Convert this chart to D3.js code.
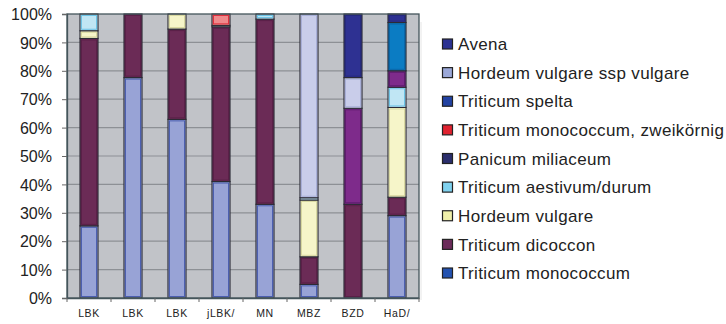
<!DOCTYPE html>
<html>
<head>
<meta charset="utf-8">
<script src="https://cdn.jsdelivr.net/npm/d3@7"></script>
<style>
  html, body { margin: 0; padding: 0; background: #ffffff; }
  svg { display: block; font-family: "Liberation Sans", Arial, sans-serif; }
</style>
</head>
<body>
<svg id="chart" width="726" height="324"></svg>
<script>
// ---- data ----
const categories = ["LBK", "LBK", "LBK", "jLBK/", "MN", "MBZ", "BZD", "HaD/"];
const seriesNames = [
  "Triticum monococcum",
  "Triticum dicoccon",
  "Hordeum vulgare",
  "Triticum aestivum/durum",
  "Panicum miliaceum",
  "Triticum monococcum, zweikörnig",
  "Triticum spelta",
  "Hordeum vulgare ssp vulgare",
  "Avena"
];
const monococcum   = [25.4, 77.6, 62.9, 41.0, 33.0, 4.8, 0, 29.0];
const dicoccon     = [66.0, 22.4, 31.8, 54.5, 65.2, 9.7, 33.0, 6.5];
const hordeum      = [2.7, 0, 5.3, 0, 0, 20.0, 0, 31.6];
const aestivum     = [5.9, 0, 0, 0.5, 1.8, 0.8, 0, 7.1];
const panicum      = [0, 0, 0, 0, 0, 0, 33.8, 5.8];
const zweikoernig  = [0, 0, 0, 4.0, 0, 0, 0, 0];
const spelta       = [0, 0, 0, 0, 0, 0, 0, 17.0];
const sspVulgare   = [0, 0, 0, 0, 0, 64.7, 10.8, 0];
const avena        = [0, 0, 0, 0, 0, 0, 22.4, 3.0];
const seriesValues = [monococcum, dicoccon, hordeum, aestivum, panicum, zweikoernig, spelta, sspVulgare, avena];
const yTicks = [0, 10, 20, 30, 40, 50, 60, 70, 80, 90, 100];

// ---- styles ----
const barFill   = ["#98a3d6", "#6b2b56", "#f6f5c9", "#c0e6f4", "#7e2b8b", "#f08a8c", "#0b7cc3", "#c9cdea", "#2e3192"];
const barEdge   = ["#4c5fb0", "#5a2048", "#d8d8a0", "#6cc3e6", "#5e1d6e", "#e0303e", "#0a66a8", "#a8afd8", "#262a7e"];
const legendFill = ["#2352b0", "#6b2b5a", "#efefaa", "#80d2ef", "#2b2e6c", "#e0222f", "#2242a2", "#9ba8d8", "#2b3192"];

const svg = d3.select("#chart");
const plot = { left: 67, right: 419, top: 14, bottom: 298 };

const x = d3.scaleBand().domain(d3.range(categories.length)).range([plot.left, plot.right]).paddingInner(0.59).paddingOuter(0.295);
const y = d3.scaleLinear().domain([0, 100]).range([plot.bottom, plot.top]);

// background
svg.append("rect").attr("x", plot.left).attr("y", plot.top)
  .attr("width", plot.right - plot.left).attr("height", plot.bottom - plot.top)
  .attr("fill", "#c1c3c8");

// gridlines
svg.append("g").selectAll("line").data(yTicks.filter(d => d > 0 && d < 100)).join("line")
  .attr("x1", plot.left).attr("x2", plot.right)
  .attr("y1", d => y(d)).attr("y2", d => y(d))
  .attr("stroke", "#8d9095").attr("stroke-width", 1.2);

// stack
const table = categories.map((c, i) => {
  const o = { idx: i };
  seriesValues.forEach((arr, s) => { o["s" + s] = arr[i]; });
  return o;
});
const stack = d3.stack().keys(seriesValues.map((_, s) => "s" + s));
const layers = stack(table);

const gBars = svg.append("g");
layers.forEach((layer, s) => {
  gBars.append("g").selectAll("rect").data(layer.filter(d => d[1] - d[0] > 0)).join("rect")
    .attr("x", d => x(d.data.idx))
    .attr("y", d => y(d[1]))
    .attr("width", x.bandwidth())
    .attr("height", d => y(d[0]) - y(d[1]))
    .attr("fill", barFill[s])
    .attr("stroke", "#2b2b35").attr("stroke-width", 1.1);
  gBars.append("g").selectAll("rect").data(layer.filter(d => y(d[0]) - y(d[1]) > 3)).join("rect")
    .attr("x", d => x(d.data.idx) + 1.5)
    .attr("y", d => y(d[1]) + 1.5)
    .attr("width", x.bandwidth() - 3)
    .attr("height", d => y(d[0]) - y(d[1]) - 3)
    .attr("fill", "none")
    .attr("stroke", barEdge[s]).attr("stroke-width", 1);
});

// plot border
svg.append("rect").attr("x", plot.left).attr("y", plot.top)
  .attr("width", plot.right - plot.left).attr("height", plot.bottom - plot.top)
  .attr("fill", "none").attr("stroke", "#44555b").attr("stroke-width", 1.3);

// y axis
const yAxis = d3.axisLeft(y).tickValues(yTicks).tickFormat(d => d + "%").tickSize(5).tickPadding(10);
const gy = svg.append("g").attr("transform", `translate(${plot.left},0)`).call(yAxis);
gy.select(".domain").attr("stroke", "#44555b").attr("stroke-width", 1.3);
gy.selectAll(".tick line").attr("stroke", "#666");
gy.selectAll(".tick text").attr("font-size", 16).attr("fill", "#222").attr("font-family", "Liberation Sans, Arial, sans-serif").attr("dy", "0.36em");

// x axis
const xAxis = d3.axisBottom(x).tickFormat(i => categories[i]).tickSize(0).tickPadding(12);
const gx = svg.append("g").attr("transform", `translate(0,${plot.bottom})`).call(xAxis);
gx.select(".domain").attr("stroke", "#44555b").attr("stroke-width", 1.3);
gx.selectAll(".tick text").attr("font-size", 10.5).attr("fill", "#222").style("letter-spacing", "0.6px")
  .attr("font-family", "Liberation Sans, Arial, sans-serif");
// category boundary ticks
svg.append("g").selectAll("line").data(d3.range(categories.length + 1)).join("line")
  .attr("x1", i => plot.left + i * x.step()).attr("x2", i => plot.left + i * x.step())
  .attr("y1", plot.bottom).attr("y2", plot.bottom + 4)
  .attr("stroke", "#666");

// legend frame line
svg.append("line").attr("x1", 421).attr("x2", 421).attr("y1", 22).attr("y2", 300)
  .attr("stroke", "#e6e6e6").attr("stroke-width", 1);

// legend
const legendOrder = d3.range(seriesNames.length).reverse();
const ly = d3.scalePoint().domain(legendOrder).range([44, 273]);
const lg = svg.append("g").selectAll("g").data(legendOrder).join("g")
  .attr("transform", s => `translate(442,${ly(s)})`);
lg.append("rect").attr("x", 0.5).attr("y", -5).attr("width", 10).attr("height", 10)
  .attr("fill", s => legendFill[s]).attr("stroke", "#222").attr("stroke-width", 1.2);
lg.append("text").attr("x", 16).attr("y", 0).attr("dy", "0.36em")
  .attr("font-size", 17).attr("fill", "#222").style("letter-spacing", "0.35px")
  .text(s => seriesNames[s]);
</script>
</body>
</html>
